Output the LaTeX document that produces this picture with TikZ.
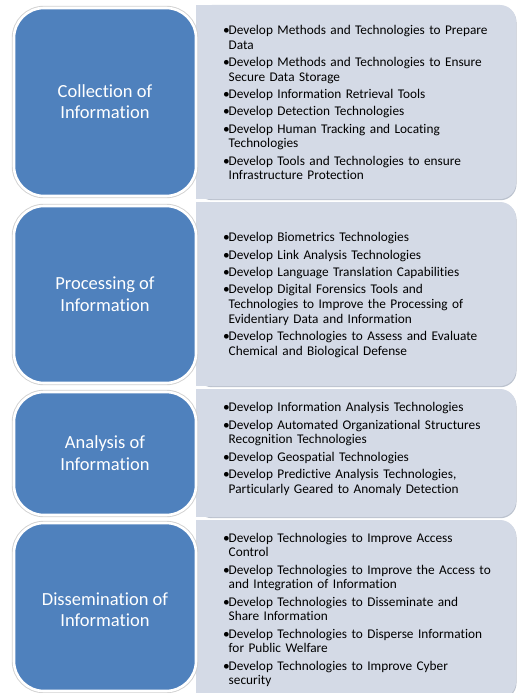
\documentclass[tikz,border=0pt]{standalone}
\usepackage{fontspec}
\setmainfont{Carlito}[RawFeature={-liga;-clig;-calt}]
\definecolor{boxblue}{HTML}{4F81BD}
\definecolor{panelgray}{HTML}{D4DAE6}
\definecolor{panelshade}{HTML}{BCC3CF}
\newlength\bulletw
\setlength\bulletw{5.5pt}
\newcommand\bitem[1]{\par\hangindent=\bulletw\hangafter=1\noindent\makebox[\bulletw][l]{\textbullet}#1\par}
\tikzset{
  x=1pt, y=-1pt,
  label text/.style={text=white, font=\fontsize{18.5}{21.5}\selectfont, align=center, inner sep=0pt},
  list text/.style={anchor=west, inner sep=0pt, text width=290pt,
    font=\fontsize{13.3}{14.7}\selectfont\raggedright\setlength\parskip{2.6pt}},
}
% rounded blue heading box: #1 top, #2 bottom
\newcommand\headbox[2]{%
  \draw[black!18, line width=4.4pt, rounded corners=30pt] (14,#1) rectangle (196,#2);
  \draw[white, fill=boxblue, line width=2.6pt, rounded corners=30pt] (14,#1) rectangle (196,#2);
}
% light panel, square on the left, rounded on the right: #1 top, #2 bottom
\newcommand\panel[2]{%
  \fill[panelshade, rounded corners=16pt] (196,#1+1.2) rectangle (516.5,#2+1.2);
  \fill[panelgray, rounded corners=16pt] (196,#1) rectangle (516,#2);
  \fill[panelgray] (196,#1) rectangle (240,#2);
}
\begin{document}
\begin{tikzpicture}
\useasboundingbox (0,0) rectangle (518,693);
\fill[white] (0,0) rectangle (518,693);

\panel{5}{199}
\panel{202}{386}
\panel{389}{517}
\panel{520}{698}

\headbox{8}{196}
\headbox{206}{383}
\headbox{392}{515}
\headbox{523}{691}

\node[label text] (h1) at (105,101.5) {Collection of\\Information};
\node[label text] (h2) at (105,294) {Processing of\\Information};
\node[label text] (h3) at (105,453) {Analysis of\\Information};
\node[label text] (h4) at (105,609.5) {Dissemination of\\Information};

\node[list text] (l1) at (223,98.5) {%
\bitem{Develop Methods and Technologies to Prepare\newline Data}
\bitem{Develop Methods and Technologies to Ensure\newline Secure Data Storage}
\bitem{Develop Information Retrieval Tools}
\bitem{Develop Detection Technologies}
\bitem{Develop Human Tracking and Locating\newline Technologies}
\bitem{Develop Tools and Technologies to ensure\newline Infrastructure Protection}};

\node[list text] (l2) at (223,291) {%
\bitem{Develop Biometrics Technologies}
\bitem{Develop Link Analysis Technologies}
\bitem{Develop Language Translation Capabilities}
\bitem{Develop Digital Forensics Tools and\newline Technologies to Improve the Processing of\newline Evidentiary Data and Information}
\bitem{Develop Technologies to Assess and Evaluate\newline Chemical and Biological Defense}};

\node[list text] (l3) at (223,445) {%
\bitem{Develop Information Analysis Technologies}
\bitem{Develop Automated Organizational Structures\newline Recognition Technologies}
\bitem{Develop Geospatial Technologies}
\bitem{Develop Predictive Analysis Technologies,\newline Particularly Geared to Anomaly Detection}};

\node[list text] (l4) at (223,606) {%
\bitem{Develop Technologies to Improve Access\newline Control}
\bitem{Develop Technologies to Improve the Access to\newline and Integration of Information}
\bitem{Develop Technologies to Disseminate and\newline Share Information}
\bitem{Develop Technologies to Disperse Information\newline for Public Welfare}
\bitem{Develop Technologies to Improve Cyber\newline security}};
\end{tikzpicture}
\end{document}
